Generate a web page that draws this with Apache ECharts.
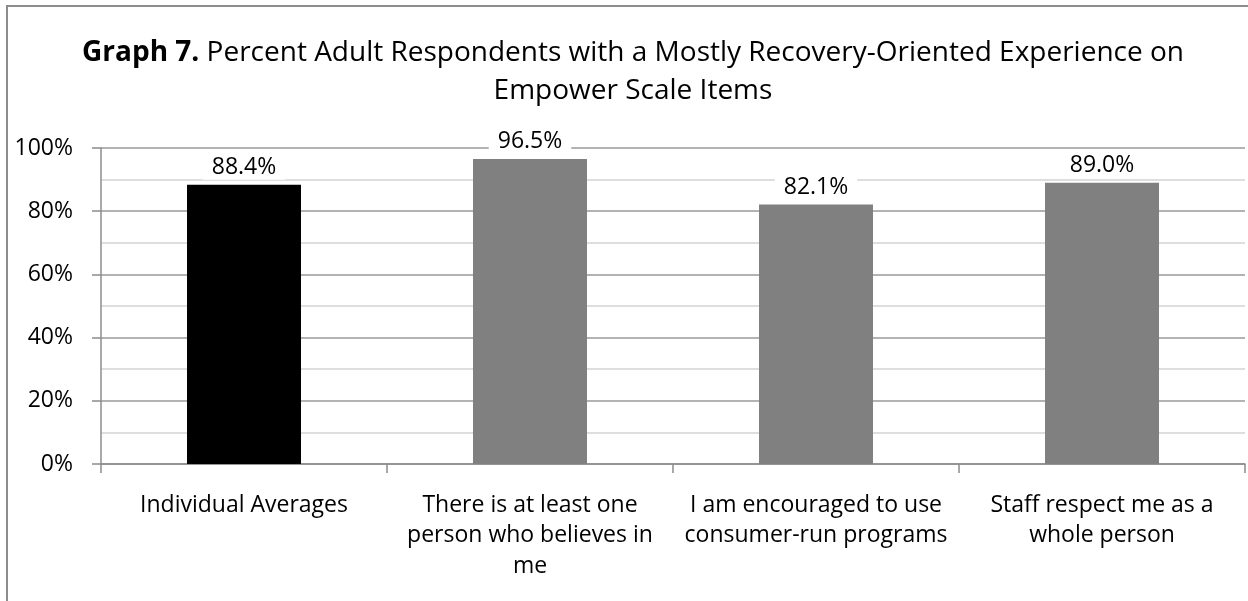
<!DOCTYPE html>
<html>
<head>
<meta charset="utf-8">
<script src="https://cdn.jsdelivr.net/npm/echarts@6/dist/echarts.min.js"></script>
<style>
  html, body { margin: 0; padding: 0; background: #fff; }
  #chart { width: 1248px; height: 601px; }
</style>
</head>
<body>
<div id="chart"></div>
<script>
// Empower scale items and the share of adults reporting a mostly recovery-oriented experience
const categories = [
  'Individual Averages',
  'There is at least one\nperson who believes in\nme',
  'I am encouraged to use\nconsumer-run programs',
  'Staff respect me as a\nwhole person'
];
const percentValues = [88.4, 96.5, 82.1, 89.0];
const barColors = ['#000000', '#808080', '#808080', '#808080'];
const yTicks = [0, 20, 40, 60, 80, 100];

const FONT = 'Open Sans';

const chart = echarts.init(document.getElementById('chart'), null, { renderer: 'canvas' });

chart.setOption({
  animation: false,
  backgroundColor: '#ffffff',
  textStyle: { fontFamily: FONT },
  graphic: [{
    type: 'rect',
    shape: { x: 7, y: 6, width: 1400, height: 800 },
    style: { fill: 'none', stroke: '#8c8c8c', lineWidth: 2 },
    silent: true,
    z: -1
  }],
  title: {
    text: '{b|Graph 7.} Percent Adult Respondents with a Mostly Recovery-Oriented Experience on\nEmpower Scale Items',
    left: 628,
    textAlign: 'center',
    top: 29,
    textStyle: {
      fontFamily: FONT,
      fontSize: 28,
      fontWeight: 'normal',
      color: '#000',
      lineHeight: 38,
      rich: {
        b: { fontFamily: FONT, fontSize: 28, fontWeight: 'bold', color: '#000', lineHeight: 38 }
      }
    }
  },
  grid: { left: 101, right: 3, top: 148, bottom: 137, containLabel: false },
  xAxis: {
    type: 'category',
    data: categories,
    axisLine: { show: true, lineStyle: { color: '#8c8c8c', width: 1.5 } },
    axisTick: { show: true, alignWithLabel: false, length: 9, lineStyle: { color: '#8c8c8c', width: 1.5 } },
    axisLabel: {
      interval: 0,
      margin: 26,
      color: '#000',
      fontFamily: FONT,
      fontSize: 23,
      lineHeight: 30.5,
      align: 'center',
      verticalAlign: 'top'
    },
    splitLine: { show: false }
  },
  yAxis: {
    type: 'value',
    min: yTicks[0],
    max: yTicks[yTicks.length - 1],
    interval: yTicks[1] - yTicks[0],
    axisLine: { show: true, lineStyle: { color: '#8c8c8c', width: 1.5 } },
    axisTick: { show: true, length: 9, lineStyle: { color: '#8c8c8c', width: 1.5 } },
    axisLabel: {
      formatter: v => v + '%',
      color: '#000',
      fontFamily: FONT,
      fontSize: 23,
      margin: 28
    },
    splitLine: { show: true, lineStyle: { color: '#9a9a9a', width: 1.5 } },
    minorTick: { show: false, splitNumber: 2 },
    minorSplitLine: { show: true, lineStyle: { color: '#d4d4d4', width: 1.5 } }
  },
  series: [{
    type: 'bar',
    data: percentValues.map((v, i) => ({ value: v, itemStyle: { color: barColors[i] } })),
    barWidth: 114,
    label: {
      show: true,
      position: 'top',
      distance: 5,
      formatter: p => p.value.toFixed(1) + '%',
      color: '#000',
      fontFamily: FONT,
      fontSize: 23,
      backgroundColor: '#ffffff',
      padding: [1, 9, 1, 9]
    }
  }]
});
</script>
</body>
</html>
